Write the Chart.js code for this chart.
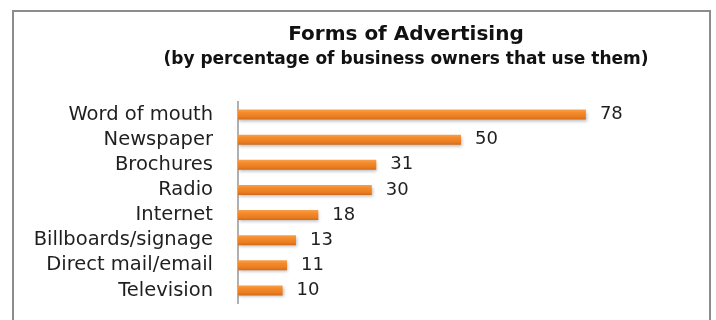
<!DOCTYPE html>
<html>
<head>
<meta charset="utf-8">
<script src="https://cdn.jsdelivr.net/npm/chart.js@4/dist/chart.umd.min.js"></script>
<style>
  body { margin: 0; background: #fff; }
  #wrap { position: relative; width: 716px; height: 320px; overflow: hidden; }
  #frame { position: absolute; left: 12px; top: 10px; width: 695px; height: 340px;
           border: 2px solid #8c8c8c; }
  #adChart { position: absolute; left: 0; top: 0; }
</style>
</head>
<body>
<div id="wrap">
  <div id="frame"></div>
  <canvas id="adChart" width="716" height="320"></canvas>
</div>
<script>
var titleText = 'Forms of Advertising';
var subtitleText = '(by percentage of business owners that use them)';
var forms = ['Word of mouth', 'Newspaper', 'Brochures', 'Radio', 'Internet',
             'Billboards/signage', 'Direct mail/email', 'Television'];
var percentUsing = [78, 50, 31, 30, 18, 13, 11, 10];

var labelFont = '"DejaVu Sans", sans-serif';

// orange bar, lighter on top, darker underneath
function barFill(c) {
  var yScale = c.chart.scales && c.chart.scales.y;
  if (!yScale || c.dataIndex === undefined) return '#ef8a2c';
  var y = yScale.getPixelForValue(c.dataIndex);
  if (!isFinite(y)) return '#ef8a2c';
  var g = c.chart.ctx.createLinearGradient(0, y - 5, 0, y + 5);
  g.addColorStop(0, '#f9a04c');
  g.addColorStop(0.3, '#f48b2a');
  g.addColorStop(0.75, '#e97c20');
  g.addColorStop(1, '#d0691a');
  return g;
}

var headingPlugin = {
  id: 'heading',
  afterDraw: function (chart) {
    var ctx = chart.ctx;
    ctx.save();
    ctx.fillStyle = '#111';
    ctx.textAlign = 'center';
    ctx.textBaseline = 'middle';
    ctx.font = 'bold 20px ' + labelFont;
    ctx.fillText(titleText, 406, 35);
    ctx.font = 'bold 17px ' + labelFont;
    ctx.fillText(subtitleText, 406, 60);
    ctx.restore();
  }
};

var shadowPlugin = {
  id: 'barShadow',
  beforeDatasetsDraw: function (chart) {
    var ctx = chart.ctx;
    ctx.save();
    ctx.shadowColor = 'rgba(0,0,0,0.25)';
    ctx.shadowOffsetX = 1;
    ctx.shadowOffsetY = 2;
    ctx.shadowBlur = 3;
  },
  afterDatasetsDraw: function (chart) {
    chart.ctx.restore();
  }
};

var valuePlugin = {
  id: 'barValues',
  afterDatasetsDraw: function (chart) {
    var ctx = chart.ctx;
    var meta = chart.getDatasetMeta(0);
    ctx.save();
    ctx.fillStyle = '#1f1f1f';
    ctx.font = '18px ' + labelFont;
    ctx.textAlign = 'left';
    ctx.textBaseline = 'middle';
    meta.data.forEach(function (bar, i) {
      ctx.fillText(String(percentUsing[i]), bar.x + 14, bar.y);
    });
    ctx.restore();
  }
};

new Chart(document.getElementById('adChart'), {
  type: 'bar',
  data: {
    labels: forms,
    datasets: [{
      data: percentUsing,
      backgroundColor: barFill,
      borderWidth: 0,
      barPercentage: 0.4,
      categoryPercentage: 1
    }]
  },
  options: {
    indexAxis: 'y',
    responsive: false,
    animation: false,
    events: [],
    layout: { padding: { top: 102, bottom: 17, left: 0, right: 32 } },
    plugins: { legend: { display: false }, tooltip: { enabled: false } },
    scales: {
      x: { display: false, min: 0, max: 100 },
      y: {
        grid: { display: false, drawTicks: false },
        border: { display: true, color: '#b0b0b0', width: 2 },
        ticks: { color: '#1f1f1f', padding: 25, autoSkip: false,
                 font: { family: labelFont, size: 19.5 } },
        afterFit: function (scale) {
          scale.width = 238;
          scale.paddingTop = 0;
          scale.paddingBottom = 0;
        }
      }
    }
  },
  plugins: [headingPlugin, shadowPlugin, valuePlugin]
});
</script>
</body>
</html>
